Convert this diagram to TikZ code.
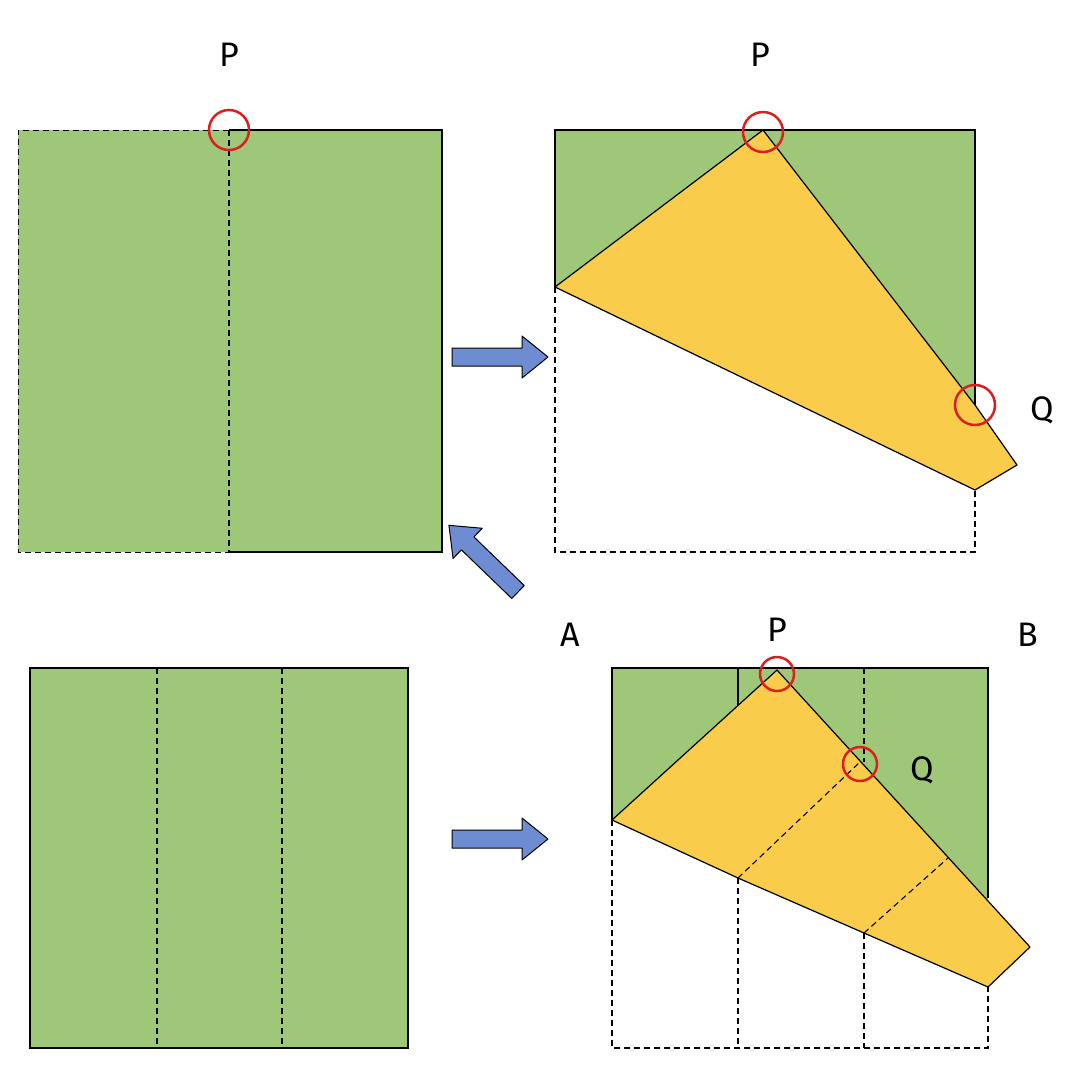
\documentclass[tikz,border=0pt]{standalone}
\usepackage{fontspec}
\setmainfont{Fira Sans}
\begin{document}
\begin{tikzpicture}[x=1pt,y=-1pt,
  green/.style={fill={rgb,255:red,158;green,200;blue,120}},
  yel/.style={fill={rgb,255:red,250;green,204;blue,75},draw=black,line width=1.2pt,line join=round},
  ln/.style={draw=black,line width=1.2pt},
  dsh/.style={draw=black,line width=1.1pt,dash pattern=on 6pt off 4pt},
  ring/.style={draw={rgb,255:red,220;green,30;blue,30},line width=2.5pt},
  lab/.style={font=\fontsize{34}{34}\selectfont},
  barrow/.style={fill={rgb,255:red,110;green,140;blue,210},draw=black,line width=1pt,line join=round}]
\useasboundingbox (0,0) rectangle (1080,1080);
% top-left
\fill[green] (18,130) rectangle (442,552);
\draw[dsh,line width=0.7pt] (229,130) -- (18,130) -- (18,552) -- (229,552);
\draw[ln] (229,130) -- (442,130) -- (442,552) -- (229,552);
\draw[dsh] (229,130) -- (229,552);
\draw[ring] (229,130) circle (20);
\node[lab] (p1) at (229,55) {P};
% arrow 1
\draw[barrow] (452,348) -- (522,348) -- (522,336) -- (548,357) -- (522,378) -- (522,366) -- (452,366) -- cycle;
% top-right
\fill[green] (555,130) -- (975,130) -- (975,490) -- (555,287) -- cycle;
\draw[ln] (555,287) -- (555,130) -- (975,130) -- (975,405);
\draw[yel] (555,287) -- (763,130) -- (975,405) -- (1017,465) -- (975,490) -- cycle;
\draw[dsh] (555,287) -- (555,552) -- (975,552) -- (975,490);
\draw[ring] (763,132) circle (20);
\draw[ring] (975,405) circle (20);
\node[lab] (p2) at (760,55) {P};
\node[lab] (q2) at (1042,410) {Q};
% diagonal arrow
\begin{scope}[shift={(518,592)},rotate=136]
\draw[barrow] (0,-9) -- (70,-9) -- (70,-21) -- (96,0) -- (70,21) -- (70,9) -- (0,9) -- cycle;
\end{scope}
\node[lab] (a) at (570,635) {A};
\node[lab] (b) at (1028,635) {B};
% bottom-left
\fill[green] (30,668) rectangle (408,1048);
\draw[ln] (30,668) rectangle (408,1048);
\draw[dsh] (157,668) -- (157,1048);
\draw[dsh] (282,668) -- (282,1048);
% arrow 2
\draw[barrow] (452,830) -- (522,830) -- (522,818) -- (548,839) -- (522,860) -- (522,848) -- (452,848) -- cycle;
% bottom-right
\fill[green] (612,668) -- (988,668) -- (988,987) -- (612,820) -- cycle;
\draw[ln] (612,820) -- (612,668) -- (988,668) -- (988,898);
\draw[ln] (738,668) -- (738,705);
\draw[dsh] (864,668) -- (864,762);
\draw[yel] (612,820) -- (777,670) -- (1030,947) -- (988,987) -- (864,933) -- (738,878) -- cycle;
\draw[dsh] (738,878) -- (860,762);
\draw[dsh] (864,933) -- (948,858);
\draw[dsh] (612,820) -- (612,1048) -- (988,1048) -- (988,987);
\draw[dsh] (738,878) -- (738,1048);
\draw[dsh] (864,933) -- (864,1048);
\draw[ring] (777,674) circle (17);
\draw[ring] (860,764) circle (17);
\node[lab] (p3) at (777,630) {P};
\node[lab] (q3) at (922,770) {Q};
\end{tikzpicture}
\end{document}
